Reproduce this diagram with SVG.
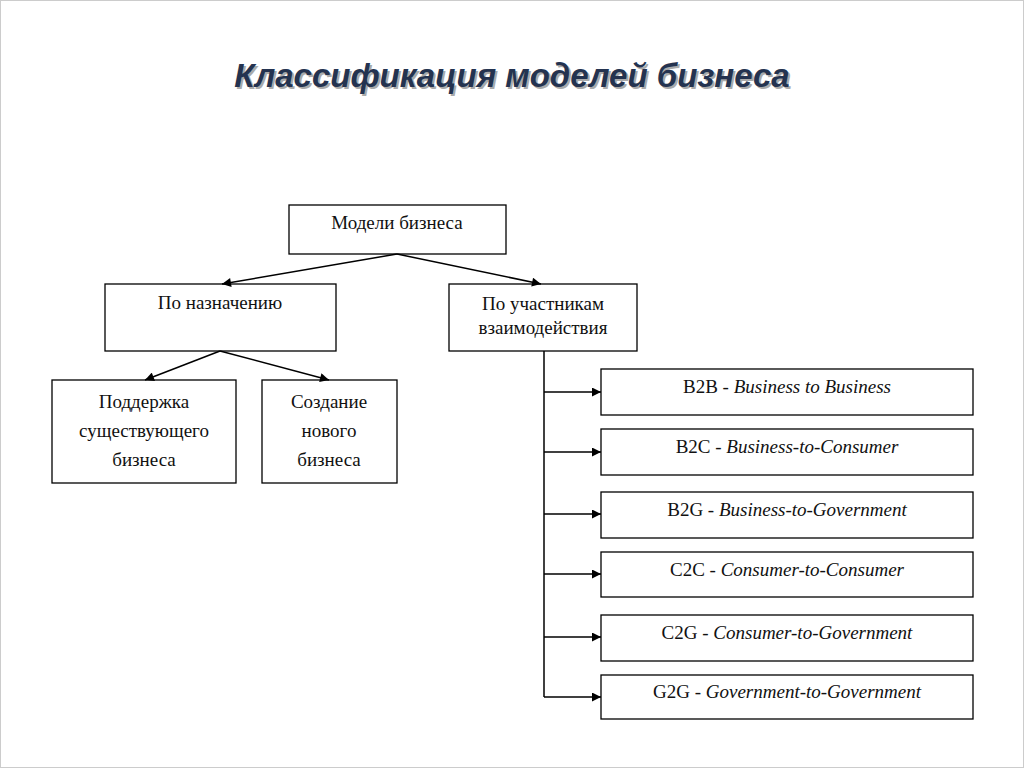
<svg xmlns="http://www.w3.org/2000/svg" width="1024" height="768" viewBox="0 0 1024 768">
<defs>
<marker id="ah" viewBox="0 0 10 10" refX="10" refY="5" markerWidth="10" markerHeight="9" markerUnits="userSpaceOnUse" orient="auto"><path d="M0,0 L10,5 L0,10 z" fill="#000"/></marker>
<style>
.b{fill:#fff;stroke:#000;stroke-width:1.3}
.t{font-family:"Liberation Serif",serif;font-size:19px;fill:#111;text-anchor:middle}
.i{font-style:italic}
.c{fill:none;stroke:#000;stroke-width:1.5}
</style>
</defs>
<rect width="1024" height="768" fill="#fff"/>
<rect x="0.5" y="0.5" width="1023" height="767" fill="none" stroke="#ccc"/>
<text x="514" y="89" font-family="Liberation Sans, sans-serif" font-size="33" font-weight="bold" font-style="italic" fill="#aaa" text-anchor="middle">Классификация моделей бизнеса</text>
<text x="512" y="87" font-family="Liberation Sans, sans-serif" font-size="33" font-weight="bold" font-style="italic" fill="#243350" text-anchor="middle">Классификация моделей бизнеса</text>
<g id="n0"><rect class="b" x="289" y="205" width="217" height="49"/><text class="t" x="397" y="229">Модели бизнеса</text></g>
<g id="n1"><rect class="b" x="105" y="284" width="231" height="67"/><text class="t" x="220" y="309">По назначению</text></g>
<g id="n2"><rect class="b" x="449" y="284" width="188" height="67"/><text class="t" x="543" y="310">По участникам</text><text class="t" x="543" y="334">взаимодействия</text></g>
<g id="n3"><rect class="b" x="52" y="380" width="184" height="103"/><text class="t" x="144" y="408">Поддержка</text><text class="t" x="144" y="437">существующего</text><text class="t" x="144" y="466">бизнеса</text></g>
<g id="n4"><rect class="b" x="262" y="380" width="135" height="103"/><text class="t" x="329" y="408">Создание</text><text class="t" x="329" y="437">нового</text><text class="t" x="329" y="466">бизнеса</text></g>
<g id="n5"><rect class="b" x="601" y="369" width="372" height="46"/><text class="t" x="787" y="393">B2B - <tspan class="i">Business to Business</tspan></text></g>
<g id="n6"><rect class="b" x="601" y="429" width="372" height="46"/><text class="t" x="787" y="453">B2C - <tspan class="i">Business-to-Consumer</tspan></text></g>
<g id="n7"><rect class="b" x="601" y="492" width="372" height="46"/><text class="t" x="787" y="516">B2G - <tspan class="i">Business-to-Government</tspan></text></g>
<g id="n8"><rect class="b" x="601" y="552" width="372" height="45"/><text class="t" x="787" y="576">C2C - <tspan class="i">Consumer-to-Consumer</tspan></text></g>
<g id="n9"><rect class="b" x="601" y="615" width="372" height="46"/><text class="t" x="787" y="639">C2G - <tspan class="i">Consumer-to-Government</tspan></text></g>
<g id="n10"><rect class="b" x="601" y="675" width="372" height="44"/><text class="t" x="787" y="698">G2G - <tspan class="i">Government-to-Government</tspan></text></g>
<g id="connectors" class="c">
<path class="c" d="M397,254 L222,284" marker-end="url(#ah)"/>
<path class="c" d="M397,254 L541,284" marker-end="url(#ah)"/>
<path class="c" d="M220,351 L145,380" marker-end="url(#ah)"/>
<path class="c" d="M220,351 L329,380" marker-end="url(#ah)"/>
<path class="c" d="M544,351 L544,697"/>
<path class="c" d="M544,392 L601,392" marker-end="url(#ah)"/>
<path class="c" d="M544,452 L601,452" marker-end="url(#ah)"/>
<path class="c" d="M544,514 L601,514" marker-end="url(#ah)"/>
<path class="c" d="M544,574 L601,574" marker-end="url(#ah)"/>
<path class="c" d="M544,637 L601,637" marker-end="url(#ah)"/>
<path class="c" d="M544,697 L601,697" marker-end="url(#ah)"/>
</g>
</svg>
